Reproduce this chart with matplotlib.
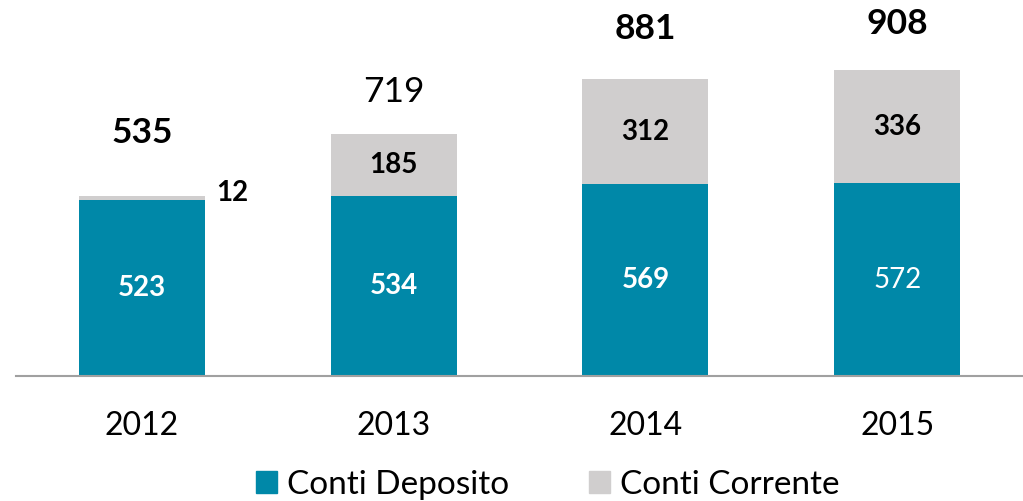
import numpy as np
import matplotlib.pyplot as plt
from matplotlib.patches import Patch

plt.rcParams['font.family'] = ['Lato', 'DejaVu Sans']

anni = ['2012', '2013', '2014', '2015']
conti_deposito = [523, 534, 569, 572]
conti_corrente = [12, 185, 312, 336]
totali = [535, 719, 881, 908]

teal = '#0088A8'
grigio = '#D0CECE'

# stile delle etichette come nell'originale (alcune non in grassetto)
peso_totali = ['bold', 'normal', 'bold', 'bold']
peso_deposito = ['bold', 'bold', 'bold', 'normal']
offset_totali = [45, 30, 36, 33]

fig = plt.figure(figsize=(10.23, 5.01), dpi=100)
ax = fig.add_axes([16 / 1023, (501 - 376) / 501, 1 - 16 / 1023, 376 / 501])

x = np.arange(len(anni))
ax.bar(x, conti_deposito, width=0.5, color=teal)
ax.bar(x, conti_corrente, width=0.5, bottom=conti_deposito, color=grigio)

for i in range(len(anni)):
    ax.text(x[i], conti_deposito[i] / 2, str(conti_deposito[i]), ha='center', va='center',
            color='white', fontsize=20, fontweight=peso_deposito[i])
    if conti_corrente[i] > 50:
        ax.text(x[i], conti_deposito[i] + conti_corrente[i] / 2, str(conti_corrente[i]),
                ha='center', va='center', color='black', fontsize=20, fontweight='bold')
    else:
        ax.annotate(str(conti_corrente[i]), (x[i] + 0.25, totali[i]), xytext=(20, 2),
                    textcoords='offset points', ha='center', va='center',
                    fontsize=20, fontweight='bold')
    ax.annotate(str(totali[i]), (x[i], totali[i]), xytext=(0, offset_totali[i]),
                textcoords='offset points', ha='center', va='center',
                fontsize=25.5, fontweight=peso_totali[i])

ax.set_xlim(-0.5, 3.5)
ax.set_ylim(0, 1116)
ax.set_xticks(x)
ax.set_xticklabels(anni, fontsize=23)
ax.tick_params(axis='x', length=0, pad=25)
ax.set_yticks([])
for s in ['top', 'right', 'left']:
    ax.spines[s].set_visible(False)
ax.spines['bottom'].set_color('#A0A0A0')
ax.spines['bottom'].set_linewidth(1.5)

handles = [Patch(color=teal, label='Conti Deposito'), Patch(color=grigio, label='Conti Corrente')]
fig.legend(handles=handles, loc='center', bbox_to_anchor=(548 / 1023, 1 - 485 / 501), ncol=2,
           frameon=False, fontsize=24, handlelength=0.63, handleheight=0.63,
           handletextpad=0.3, columnspacing=2.4, borderpad=0, borderaxespad=0)

plt.savefig('out.png', dpi=100)
